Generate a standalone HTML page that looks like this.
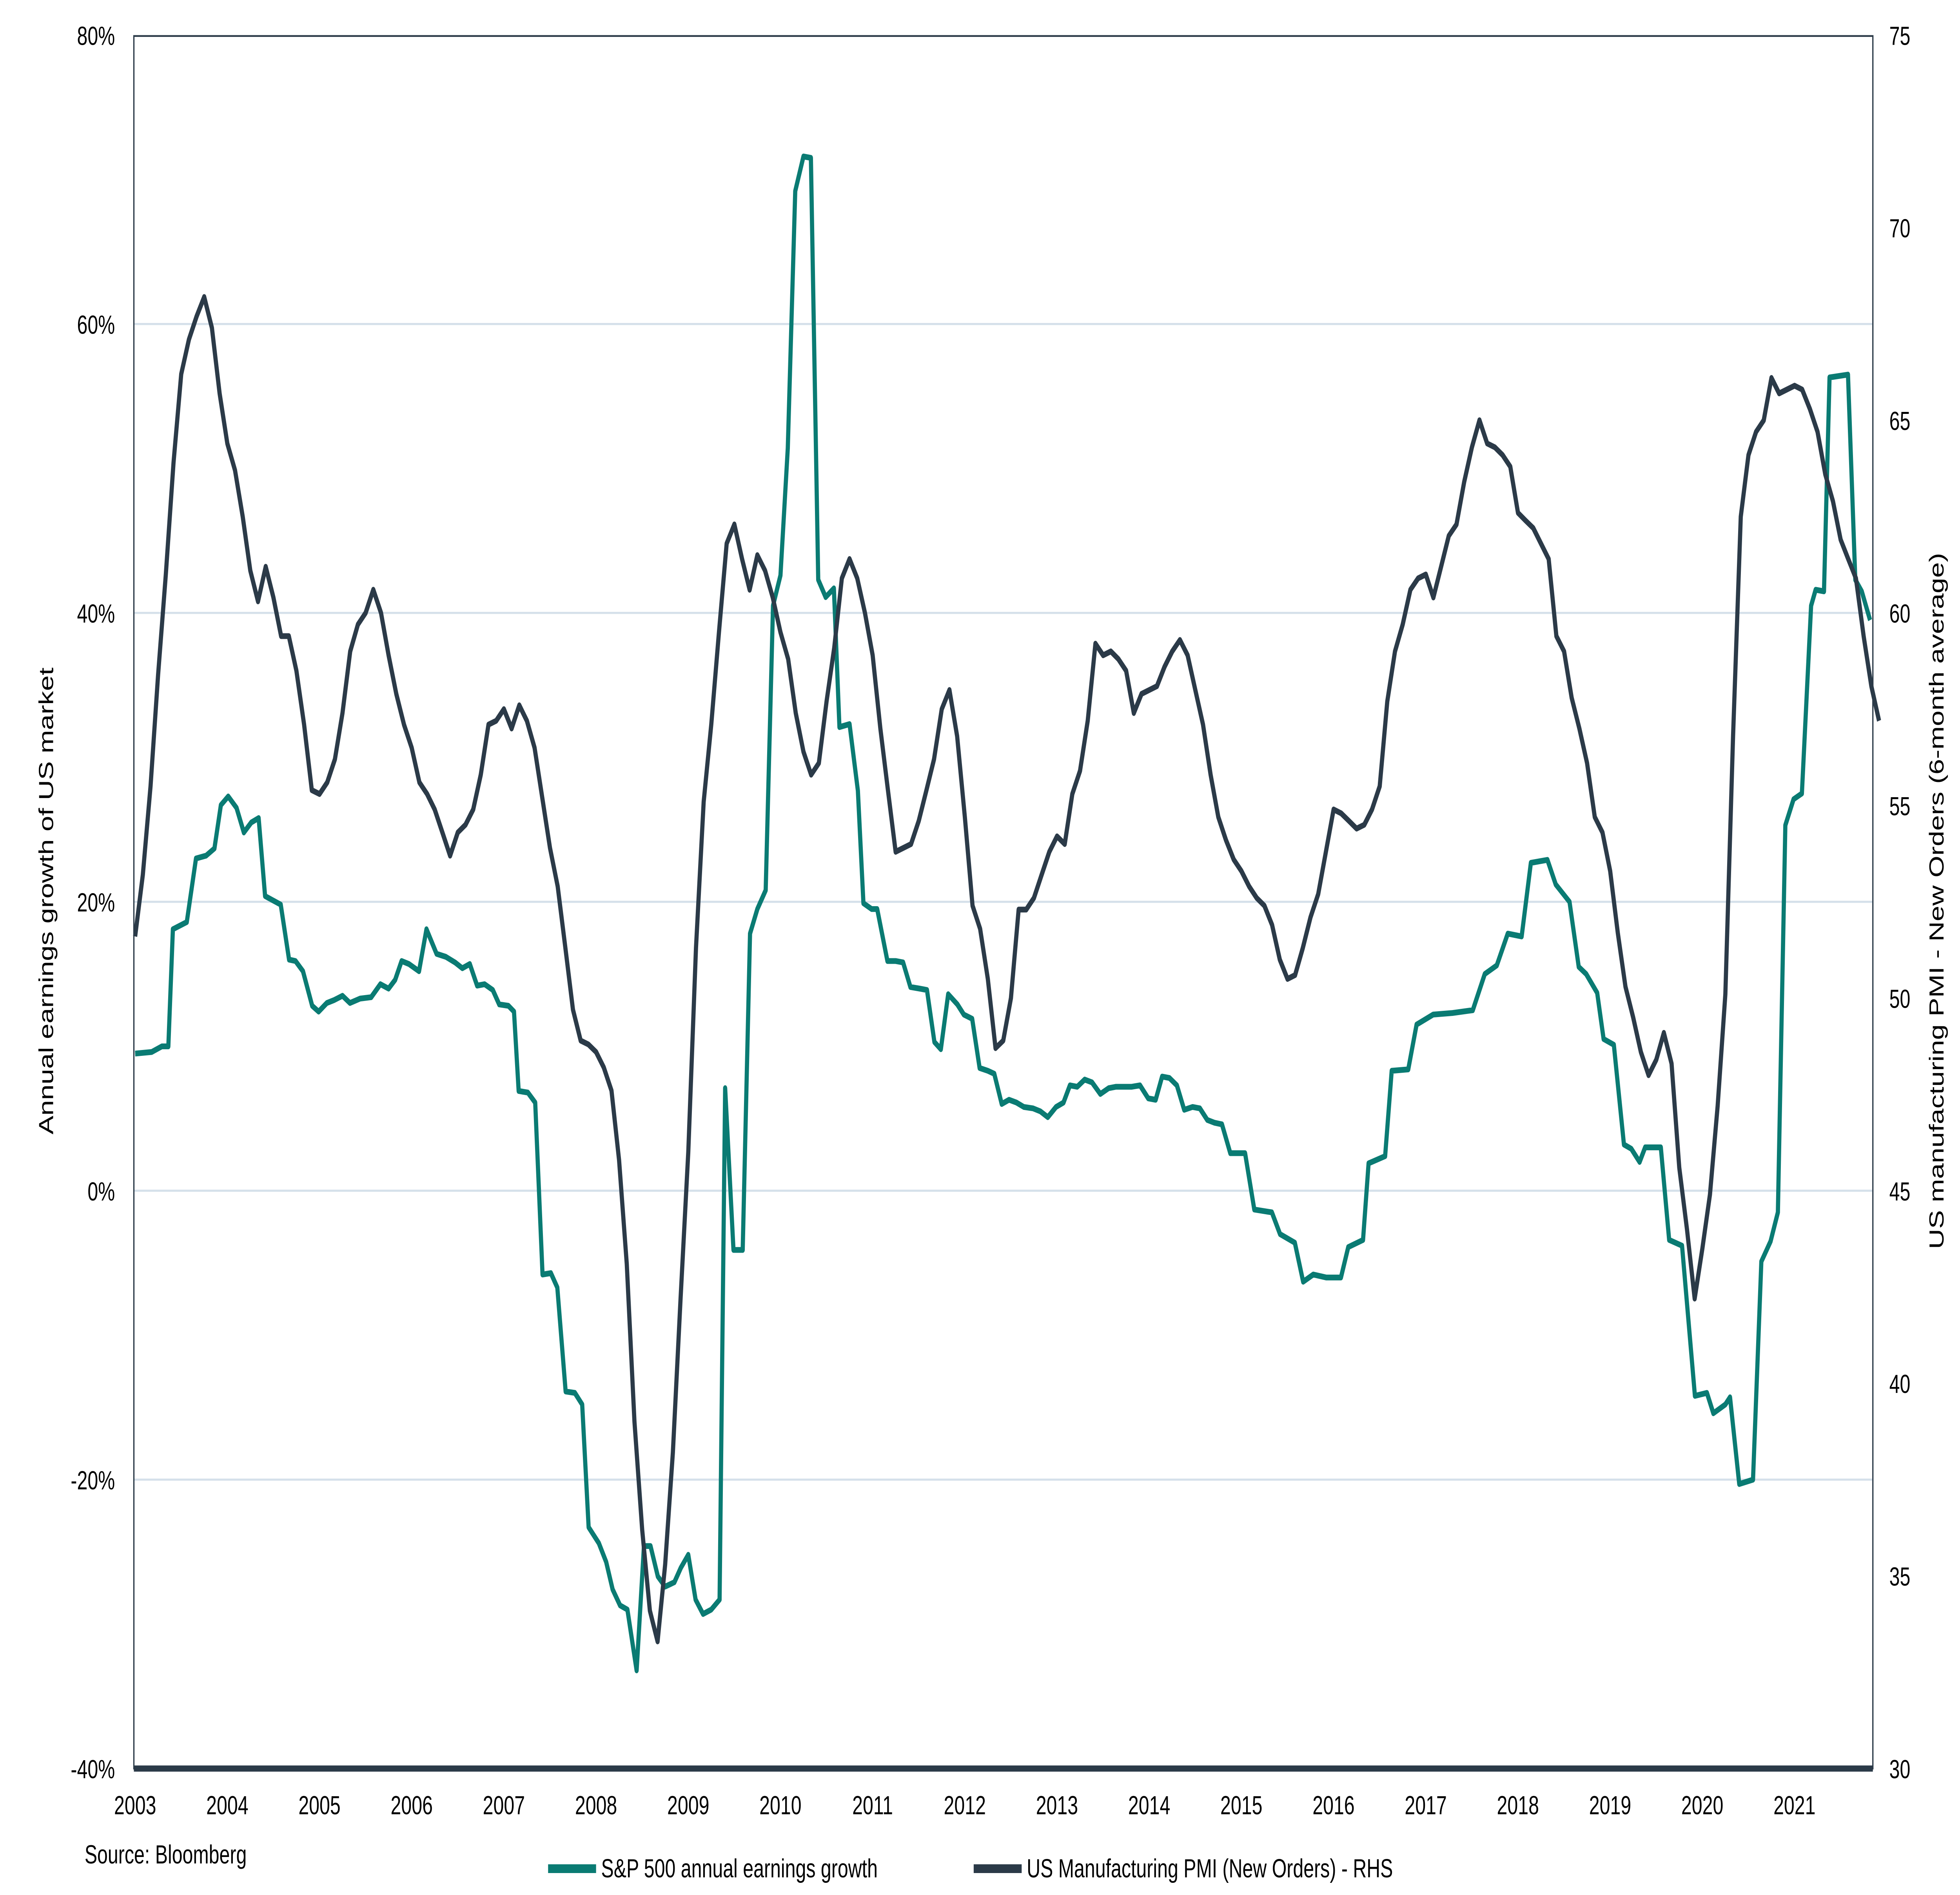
<!DOCTYPE html>
<html><head><meta charset="utf-8"><style>
html,body{margin:0;padding:0;background:#fff;width:100%;height:100%;overflow:hidden;}
svg{display:block;position:fixed;left:0;top:0;width:100vw;height:100vh;}
text{font-family:"Liberation Sans",Arial,sans-serif;fill:#000;}
</style></head><body>
<svg id="chart" viewBox="0 0 1552 1079" preserveAspectRatio="none" xmlns="http://www.w3.org/2000/svg">
<g id="grid"></g>
<g id="series"></g>
<rect x="106" y="20.5" width="1377" height="986.5" fill="none" stroke="#2b3a48" stroke-width="1"/>
<line x1="106" y1="1007" x2="1483" y2="1007" stroke="#2b3a48" stroke-width="3.5"/>
<g id="ticks"></g>
<text transform="translate(42,513) rotate(-90)" text-anchor="middle" font-size="16">Annual earnings growth of US market</text>
<text transform="translate(1539,513) rotate(-90)" text-anchor="middle" font-size="16">US manufacturing PMI - New Orders (6-month average)</text>
<text x="67" y="1061" font-size="15">Source: Bloomberg</text>
<g>
<g><line x1="434" y1="1064" x2="472" y2="1064" stroke="#0a7b73" stroke-width="5"/><text x="476" y="1069" font-size="15">S&amp;P 500 annual earnings growth</text></g>
<g><line x1="771" y1="1064" x2="809" y2="1064" stroke="#2b3a48" stroke-width="5"/><text x="813" y="1069" font-size="15">US Manufacturing PMI (New Orders) - RHS</text></g>
</g>
</svg>
<script>
const leftTicks=[80,60,40,20,0,-20,-40];
const rightTicks=[75,70,65,60,55,50,45,40,35,30];
const yearTicks=[2003,2004,2005,2006,2007,2008,2009,2010,2011,2012,2013,2014,2015,2016,2017,2018,2019,2020,2021];
const epsDates=[2003.00,2003.18,2003.29,2003.36,2003.41,2003.56,2003.66,2003.77,2003.86,2003.93,2004.01,2004.10,2004.18,2004.26,2004.34,2004.41,2004.58,2004.67,2004.74,2004.82,2004.92,2004.99,2005.08,2005.16,2005.25,2005.33,2005.44,2005.56,2005.66,2005.75,2005.82,2005.89,2005.97,2006.08,2006.16,2006.27,2006.37,2006.47,2006.55,2006.63,2006.71,2006.79,2006.88,2006.95,2007.05,2007.11,2007.16,2007.26,2007.34,2007.42,2007.51,2007.58,2007.67,2007.77,2007.85,2007.92,2008.03,2008.11,2008.18,2008.26,2008.34,2008.44,2008.52,2008.59,2008.67,2008.75,2008.85,2008.92,2009.00,2009.08,2009.16,2009.25,2009.34,2009.40,2009.49,2009.59,2009.67,2009.75,2009.84,2009.92,2010.00,2010.08,2010.16,2010.25,2010.33,2010.41,2010.49,2010.58,2010.64,2010.75,2010.84,2010.90,2010.99,2011.05,2011.16,2011.25,2011.33,2011.41,2011.51,2011.59,2011.67,2011.74,2011.82,2011.92,2011.99,2012.08,2012.16,2012.25,2012.32,2012.40,2012.48,2012.56,2012.64,2012.74,2012.82,2012.90,2012.99,2013.07,2013.14,2013.22,2013.30,2013.38,2013.47,2013.56,2013.64,2013.73,2013.81,2013.90,2013.99,2014.07,2014.14,2014.22,2014.30,2014.38,2014.47,2014.55,2014.63,2014.71,2014.79,2014.88,2014.96,2015.04,2015.14,2015.33,2015.42,2015.58,2015.67,2015.78,2015.92,2016.08,2016.16,2016.32,2016.38,2016.56,2016.63,2016.81,2016.90,2017.08,2017.29,2017.51,2017.64,2017.77,2017.89,2018.04,2018.14,2018.32,2018.41,2018.56,2018.66,2018.74,2018.86,2018.93,2019.04,2019.15,2019.23,2019.32,2019.38,2019.55,2019.64,2019.78,2019.92,2020.05,2020.12,2020.25,2020.30,2020.40,2020.55,2020.64,2020.74,2020.82,2020.90,2020.99,2021.08,2021.18,2021.23,2021.32,2021.38,2021.58,2021.66,2021.73,2021.82];
const epsValues=[9.5,9.6,10,10,18.1,18.6,23,23.2,23.7,26.7,27.3,26.5,24.8,25.5,25.8,20.4,19.8,16,15.9,15.2,12.8,12.4,13,13.2,13.5,13,13.3,13.4,14.3,14,14.6,15.9,15.7,15.2,18.1,16.4,16.2,15.8,15.4,15.7,14.2,14.3,13.9,12.9,12.8,12.4,6.9,6.8,6.1,-5.8,-5.7,-6.7,-13.9,-14,-14.8,-23.3,-24.4,-25.7,-27.6,-28.7,-29,-33.2,-24.6,-24.6,-26.7,-27.4,-27.1,-26.1,-25.2,-28.3,-29.3,-29,-28.3,7.1,-4.1,-4.1,17.8,19.5,20.8,40.5,42.6,51.4,69.2,71.6,71.5,42.3,41.1,41.7,32.1,32.3,27.7,19.9,19.5,19.5,15.9,15.9,15.8,14.1,14,13.9,10.3,9.8,13.6,12.9,12.2,11.9,8.5,8.3,8.1,6,6.3,6.1,5.8,5.7,5.5,5.1,5.8,6.1,7.3,7.2,7.7,7.5,6.7,7.1,7.2,7.2,7.2,7.3,6.4,6.3,7.9,7.8,7.3,5.6,5.8,5.7,4.9,4.7,4.6,2.6,2.6,2.6,-1.3,-1.5,-3,-3.6,-6.3,-5.8,-6,-6,-3.9,-3.4,1.9,2.4,8.3,8.4,11.5,12.2,12.3,12.5,15,15.6,17.8,17.6,22.7,22.9,21.2,20,15.5,15,13.7,10.5,10.1,3.2,2.9,2,3,3,-3.4,-3.8,-14.2,-14,-15.4,-14.8,-14.3,-20.3,-20,-4.9,-3.5,-1.5,25.3,27.1,27.5,40.5,41.6,41.5,56.3,56.5,42.3,41.5,39.5];
const pmiStartYear=2003;
const pmiValues=[51.6,53.2,55.5,58.4,61,63.9,66.2,67.1,67.7,68.2,67.4,65.7,64.4,63.7,62.5,61.1,60.3,61.2,60.4,59.4,59.4,58.5,57.1,55.4,55.3,55.6,56.2,57.4,59,59.7,60,60.6,60,58.9,57.9,57.1,56.5,55.6,55.3,54.9,54.3,53.7,54.3,54.5,54.9,55.8,57.1,57.2,57.5,57,57.6,57.2,56.5,55.2,53.9,52.9,51.3,49.7,48.9,48.8,48.6,48.2,47.6,45.8,43.1,39,36.2,34.1,33.3,35.3,38.2,42.2,46,51.3,55.1,57.1,59.5,61.8,62.3,61.4,60.6,61.5,61.1,60.4,59.5,58.8,57.4,56.4,55.8,56.1,57.7,59.1,60.9,61.4,60.9,60,58.9,57,55.4,53.8,53.9,54,54.6,55.4,56.2,57.5,58,56.8,54.7,52.4,51.8,50.5,48.7,48.9,50,52.3,52.3,52.6,53.2,53.8,54.2,54,55.3,55.9,57.2,59.2,58.9,59,58.8,58.5,57.4,57.9,58,58.1,58.6,59,59.3,58.9,58,57.1,55.8,54.7,54.1,53.6,53.3,52.9,52.6,52.4,51.9,51,50.5,50.6,51.3,52.1,52.7,53.8,54.9,54.8,54.6,54.4,54.5,54.9,55.5,57.7,59,59.7,60.6,60.9,61,60.4,61.2,62,62.3,63.4,64.3,65,64.4,64.3,64.1,63.8,62.6,62.4,62.2,61.8,61.4,59.4,59,57.8,57,56.1,54.7,54.3,53.3,51.7,50.3,49.5,48.6,48,48.4,49.1,48.3,45.6,44,42.2,43.5,44.9,47.2,50.1,56.8,62.5,64.1,64.7,65,66.1,65.7,65.8,65.9,65.8,65.3,64.7,63.6,62.9,61.9,61.4,60.9,59.4,58.1,57.2];

const NS='http://www.w3.org/2000/svg';
const X0=107,X1=1483,T0=2003,T1=2021.85;
const xS=t=>X0+(t-T0)/(T1-T0)*(X1-X0);
const yL=v=>20+(80-v)/120*987;
const yR=v=>20+(75-v)/45*987;
function mk(tag,parent){const e=document.createElementNS(NS,tag);parent.appendChild(e);return e;}
const grid=document.getElementById('grid'),ticks=document.getElementById('ticks'),series=document.getElementById('series');
leftTicks.forEach(v=>{
  if(v<80&&v>-40){const l=mk('line',grid);
    
    
    l.setAttribute('x1',106);l.setAttribute('x2',1483);l.setAttribute('y1',yL(v));l.setAttribute('y2',yL(v));l.setAttribute('stroke','#d5e0ea');l.setAttribute('stroke-width','1.2');}
  const t=mk('text',ticks);
  
  
  t.setAttribute('x',91);t.setAttribute('y',yL(v)+5.5);t.setAttribute('text-anchor','end');t.setAttribute('font-size','15');t.textContent=v+'%';
});
rightTicks.forEach(v=>{const t=mk('text',ticks);
  
  
  t.setAttribute('x',1496);t.setAttribute('y',yR(v)+5.5);t.setAttribute('font-size','15');t.textContent=v;});
yearTicks.forEach(y=>{const t=mk('text',ticks);
  
  
  t.setAttribute('x',xS(y));t.setAttribute('y',1033);t.setAttribute('text-anchor','middle');t.setAttribute('font-size','15');t.textContent=y;});
const epsPts=epsDates.map((d,i)=>xS(d).toFixed(1)+','+yL(epsValues[i]).toFixed(1)).join(' ');
const pmiPts=pmiValues.map((v,i)=>xS(pmiStartYear+i/12).toFixed(1)+','+yR(v).toFixed(1)).join(' ');
const p1=mk('polyline',series);


p1.setAttribute('points',epsPts);p1.setAttribute('fill','none');p1.setAttribute('stroke','#0a7b73');p1.setAttribute('stroke-width','3.3');p1.setAttribute('stroke-linejoin','round');
const p2=mk('polyline',series);


p2.setAttribute('points',pmiPts);p2.setAttribute('fill','none');p2.setAttribute('stroke','#2b3a48');p2.setAttribute('stroke-width','3.3');p2.setAttribute('stroke-linejoin','round');
</script>
</body></html>
